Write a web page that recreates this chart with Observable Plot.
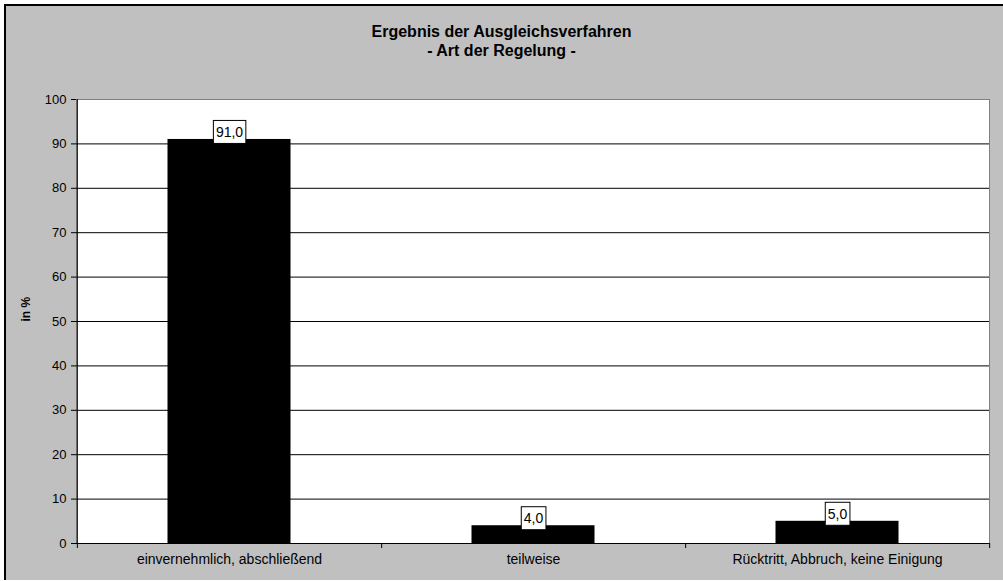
<!DOCTYPE html>
<html>
<head>
<meta charset="utf-8">
<script src="https://cdn.jsdelivr.net/npm/d3@7"></script>
<script src="https://cdn.jsdelivr.net/npm/@observablehq/plot@0.6"></script>
<style>
html, body { margin: 0; padding: 0; background: #fff; width: 1003px; height: 581px; overflow: hidden; }
#frame { position: absolute; left: 4px; top: 4px; width: 999px; height: 576px; background: #c0c0c0; border-left: 2px solid #000; border-top: 2px solid #000; box-sizing: border-box; }
#title { position: absolute; left: 0; top: 23px; width: 1003px; text-align: center; font: bold 16px "Liberation Sans", Arial, sans-serif; line-height: 18.5px; color: #000; z-index: 2; }
#chart { position: absolute; left: 0; top: 0; z-index: 1; }
</style>
</head>
<body>
<div id="frame"></div>
<div id="title">Ergebnis der Ausgleichsverfahren<br>- Art der Regelung -</div>
<div id="chart"></div>
<script>
const categories = ["einvernehmlich, abschließend", "teilweise", "Rücktritt, Abbruch, keine Einigung"];
const values = [91.0, 4.0, 5.0];
const yTicks = [0, 10, 20, 30, 40, 50, 60, 70, 80, 90, 100];
const yLabel = "in %";

const fmt = v => v.toFixed(1).replace(".", ",");
const data = categories.map((c, i) => ({category: c, value: values[i], label: fmt(values[i])}));
const labelSet = new Set(data.map(d => d.label));

const W = 1003, H = 581;
const mL = 76, mR = 14, mT = 99, mB = 38;
const step = (W - mL - mR) / categories.length;
const font = "'Liberation Sans', Arial, sans-serif";

const plot = Plot.plot({
  width: W, height: H,
  marginLeft: mL, marginRight: mR, marginTop: mT, marginBottom: mB,
  style: {background: "transparent", fontFamily: font, fontSize: "13px", color: "#000", overflow: "visible"},
  x: {domain: categories, padding: 0, label: null},
  y: {domain: [0, 100], label: null},
  marks: [
    Plot.frame({fill: "#fff", stroke: "#808080"}),
    Plot.ruleY(yTicks.filter(t => t > 0 && t < 100), {stroke: "#000", strokeWidth: 1}),
    Plot.barY(data, {x: "category", y: "value", fill: "#000", insetLeft: 90.5, insetRight: 90.5}),
    Plot.ruleY([0], {stroke: "#000"}),
    Plot.ruleX([categories[0]], {dx: -step / 2, stroke: "#000"}),
    Plot.axisY({ticks: yTicks, tickSize: 5, tickPadding: 5, tickFormat: d => String(d), fontSize: 13, label: null, stroke: "#000"}),
    Plot.axisX({ticks: categories, tickSize: 0, tickPadding: 11, fontSize: 14, label: null}),
    Plot.axisX({ticks: categories, tickSize: 5, tickFormat: () => "", label: null, dx: step / 2, stroke: "#000"}),
    Plot.axisX({ticks: [categories[0]], tickSize: 5, tickFormat: () => "", label: null, dx: -step / 2, stroke: "#000"}),
    Plot.text([yLabel], {frameAnchor: "left", dx: -50, rotate: -90, fontWeight: "bold", fontSize: 12, fill: "#000"}),
    Plot.text(data, {x: "category", y: "value", text: "label", dy: -7, fontSize: 14, lineAnchor: "middle", fill: "#000"})
  ]
});

document.getElementById("chart").appendChild(plot);

// white boxes behind the value labels
const padX = 2.5, padY = 3.5;
plot.querySelectorAll("text").forEach(t => {
  if (!labelSet.has(t.textContent)) return;
  const b = t.getBBox();
  const r = document.createElementNS("http://www.w3.org/2000/svg", "rect");
  r.setAttribute("x", b.x - padX);
  r.setAttribute("y", b.y - padY);
  r.setAttribute("width", b.width + 2 * padX);
  r.setAttribute("height", b.height + 2 * padY);
  r.setAttribute("fill", "#fff");
  r.setAttribute("stroke", "#000");
  r.setAttribute("stroke-width", "1");
  const tr = t.getAttribute("transform");
  if (tr) r.setAttribute("transform", tr);
  t.parentNode.insertBefore(r, t);
});
</script>
</body>
</html>
